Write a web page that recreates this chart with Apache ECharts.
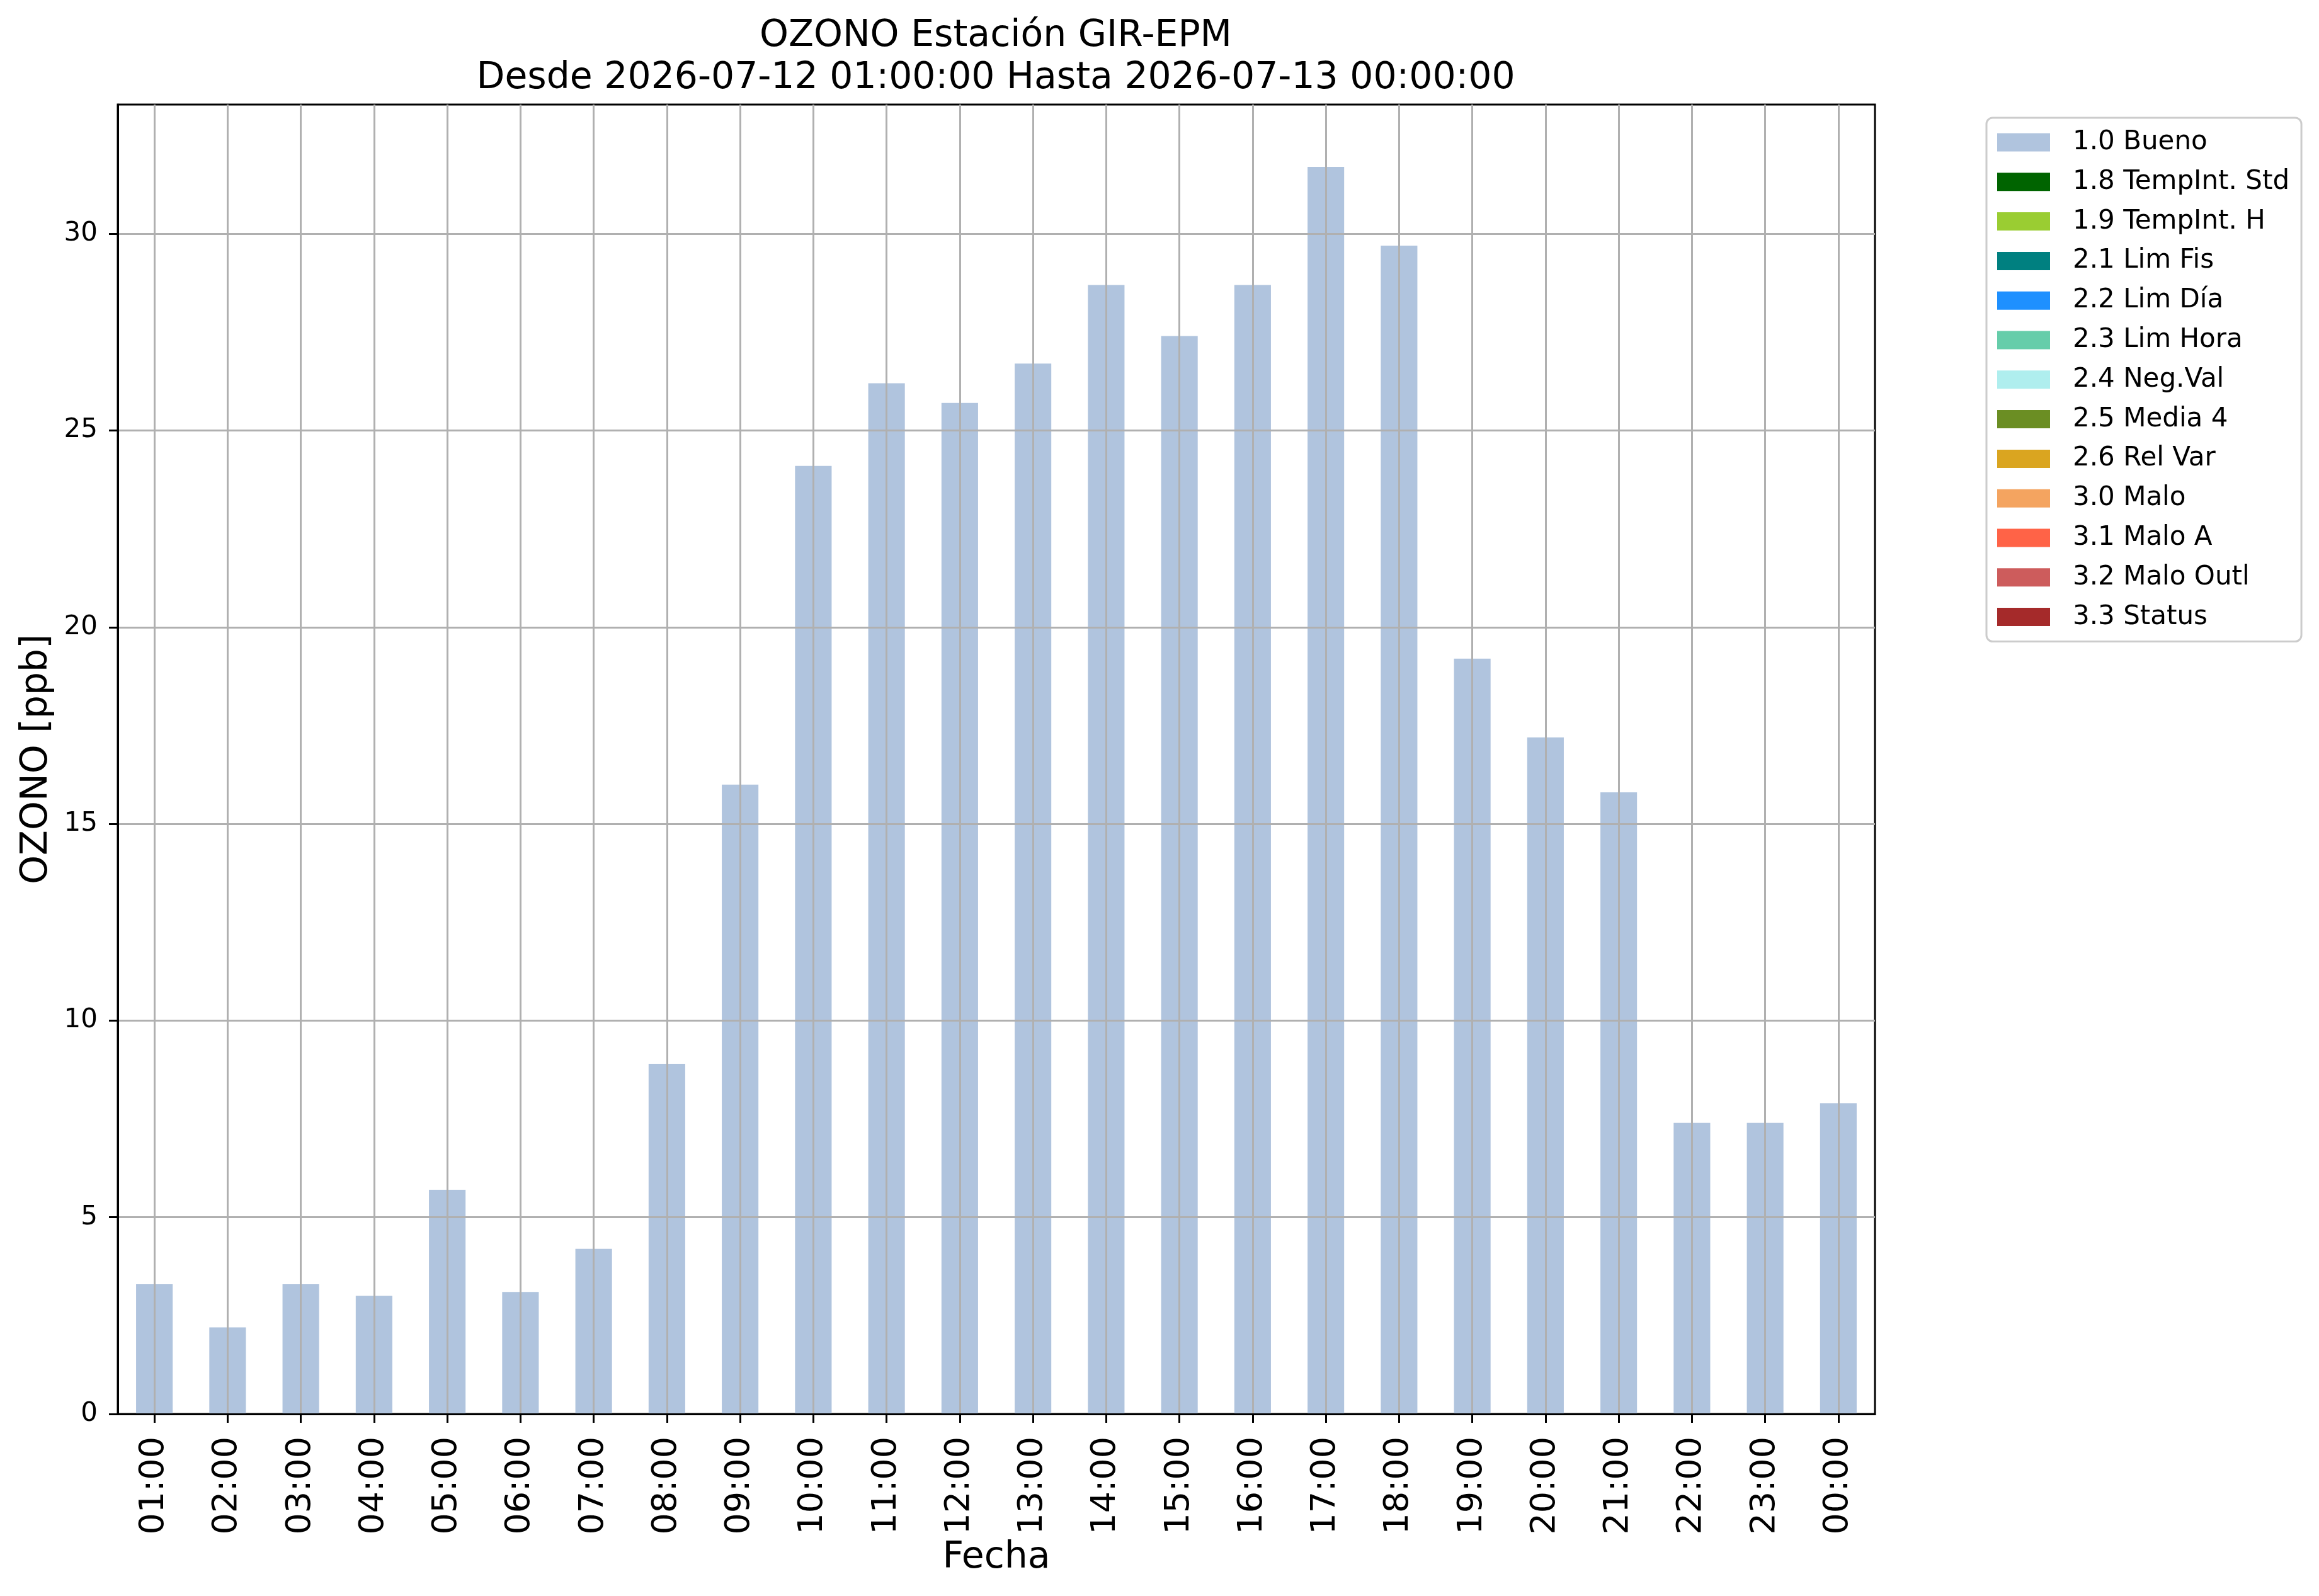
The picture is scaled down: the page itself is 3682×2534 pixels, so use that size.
<!DOCTYPE html>
<html>
<head>
<meta charset="utf-8">
<script src="https://cdn.jsdelivr.net/npm/echarts@6/dist/echarts.min.js"></script>
<style>
html,body{margin:0;padding:0;background:#fff;}
#c{width:3682px;height:2534px;}
</style>
</head>
<body>
<div id="c"></div>
<script>
const categories = ['01:00','02:00','03:00','04:00','05:00','06:00','07:00','08:00','09:00','10:00','11:00','12:00','13:00','14:00','15:00','16:00','17:00','18:00','19:00','20:00','21:00','22:00','23:00','00:00'];
const bueno = [3.3,2.2,3.3,3.0,5.7,3.1,4.2,8.9,16.0,24.1,26.2,25.7,26.7,28.7,27.4,28.7,31.7,29.7,19.2,17.2,15.8,7.4,7.4,7.9];
const seriesNames = ['1.0 Bueno','1.8 TempInt. Std','1.9 TempInt. H','2.1 Lim Fis','2.2 Lim Día','2.3 Lim Hora','2.4 Neg.Val','2.5 Media 4','2.6 Rel Var','3.0 Malo','3.1 Malo A','3.2 Malo Outl','3.3 Status'];
const seriesColors = ['#b0c4de','#006400','#9acd32','#008080','#1e90ff','#66cdaa','#afeeee','#6b8e23','#daa520','#f4a460','#ff6347','#cd5c5c','#a52a2a'];
const yTicks = [0,5,10,15,20,25,30];
const titleText = 'OZONO Estación GIR-EPM\nDesde 2026-07-12 01:00:00 Hasta 2026-07-13 00:00:00';

const FONT = 'DejaVu Sans';
const yMax = Math.max(...bueno) * 1.05;

const series = seriesNames.map((n, i) => ({
  name: n,
  type: 'bar',
  stack: 'q',
  barWidth: '50%',
  itemStyle: { color: seriesColors[i] },
  data: i === 0 ? bueno : [],
  z: 2
}));

const chart = echarts.init(document.getElementById('c'), null, {renderer: 'canvas'});
chart.setOption({
  animation: false,
  textStyle: { fontFamily: FONT, color: '#000' },
  title: {
    text: titleText,
    left: 1576,
    top: 19,
    textAlign: 'center',
    textStyle: { fontFamily: FONT, fontSize: 58.4, fontWeight: 'normal', color: '#000', lineHeight: 67 }
  },
  grid: {
    left: 187, right: 705, top: 166, bottom: 289,
    show: true, borderColor: '#000', borderWidth: 3, backgroundColor: 'transparent'
  },
  legend: {
    orient: 'vertical',
    left: 3154,
    top: 187,
    padding: [18, 19, 18, 17],
    itemWidth: 84,
    itemHeight: 29,
    itemGap: 20.8,
    icon: 'rect',
    borderColor: '#cccccc',
    borderWidth: 3,
    borderRadius: 10,
    selectedMode: false,
    textStyle: { fontFamily: FONT, fontSize: 42, color: '#000', lineHeight: 29, padding: [0, 0, 0, 31] },
    data: seriesNames
  },
  xAxis: {
    type: 'category',
    data: categories,
    z: 5,
    name: 'Fecha',
    nameLocation: 'middle',
    nameGap: 196,
    nameTextStyle: { fontFamily: FONT, fontSize: 58.4, color: '#000', lineHeight: 58 },
    axisLine: { show: true, lineStyle: { color: '#000', width: 3 } },
    axisTick: { show: true, alignWithLabel: true, interval: 0, length: 14, lineStyle: { color: '#000', width: 3 } },
    axisLabel: { interval: 0, rotate: 90, margin: 36, fontFamily: FONT, fontSize: 54, color: '#000' },
    splitLine: { show: true, alignWithLabel: true, interval: 0, lineStyle: { color: '#b0b0b0', width: 3 } }
  },
  yAxis: {
    type: 'value',
    min: 0,
    max: yMax,
    interval: 5,
    z: 5,
    name: 'OZONO [ppb]',
    nameLocation: 'middle',
    nameGap: 99,
    nameTextStyle: { fontFamily: FONT, fontSize: 58.4, color: '#000', lineHeight: 58 },
    axisLine: { show: true, lineStyle: { color: '#000', width: 3 } },
    axisTick: { show: true, length: 14, customValues: yTicks, lineStyle: { color: '#000', width: 3 } },
    axisLabel: { margin: 32, fontFamily: FONT, fontSize: 42, color: '#000', customValues: yTicks,
      formatter: v => (Math.abs(v % 5) < 1e-9 ? String(v) : '') },
    splitLine: { show: true, lineStyle: { color: '#b0b0b0', width: 3 } }
  },
  series: series
});
</script>
</body>
</html>
